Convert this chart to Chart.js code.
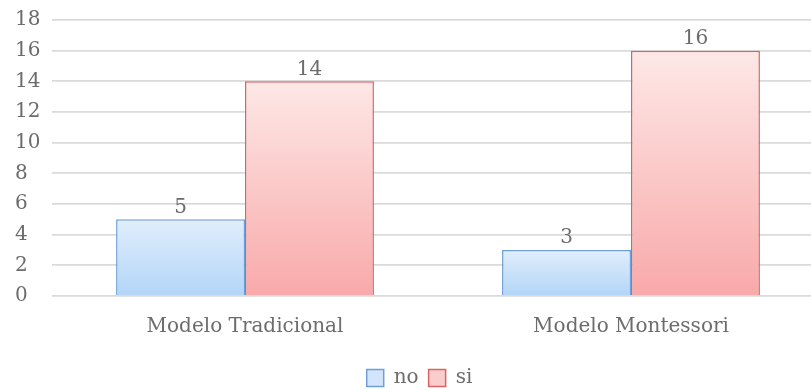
<!DOCTYPE html>
<html>
<head>
<meta charset="utf-8">
<script src="https://cdn.jsdelivr.net/npm/chart.js@4/dist/chart.umd.min.js"></script>
<style>
  html, body { margin: 0; padding: 0; background: #fff; overflow: hidden; }
  #wrap { width: 824px; height: 390px; }
</style>
</head>
<body>
<div id="wrap"><canvas id="chart"></canvas></div>
<script>
  const categories = ['Modelo Tradicional', 'Modelo Montessori'];
  const seriesNames = ['no', 'si'];
  const noValues = [5, 3];
  const siValues = [14, 16];
  const yTicks = [0, 2, 4, 6, 8, 10, 12, 14, 16, 18];

  const FONT = '"DejaVu Serif", "Liberation Serif", serif';
  const TEXT = '#6c6c6c';

  // vertical gradient from bar top to the zero line
  function barGradient(top, bottom) {
    return function (ctx) {
      const chart = ctx.chart;
      if (!chart.chartArea || ctx.type !== 'data') return bottom;
      const y = chart.scales.y;
      const y0 = y.getPixelForValue(ctx.parsed.y);
      const y1 = y.getPixelForValue(0);
      const g = chart.ctx.createLinearGradient(0, y0, 0, y1);
      g.addColorStop(0, top);
      g.addColorStop(1, bottom);
      return g;
    };
  }

  const valueLabels = {
    id: 'valueLabels',
    afterDatasetsDraw(chart) {
      const c = chart.ctx;
      c.save();
      c.font = '20px ' + FONT;
      c.fillStyle = TEXT;
      c.textAlign = 'center';
      c.textBaseline = 'bottom';
      chart.data.datasets.forEach((ds, i) => {
        chart.getDatasetMeta(i).data.forEach((bar, j) => {
          c.fillText(ds.data[j], bar.x, bar.y - 2);
        });
      });
      c.restore();
    }
  };

  new Chart(document.getElementById('chart'), {
    type: 'bar',
    data: {
      labels: categories,
      datasets: [
        {
          label: seriesNames[0],
          data: noValues,
          backgroundColor: barGradient('#e1eefc', '#b2d5f8'),
          borderColor: '#6f9fd9',
          borderWidth: 1.5,
          legendFill: '#d2e5fa'
        },
        {
          label: seriesNames[1],
          data: siValues,
          backgroundColor: barGradient('#fde8e6', '#f9a9aa'),
          borderColor: '#d66464',
          borderWidth: 1.5,
          legendFill: '#fbcccc'
        }
      ]
    },
    options: {
      responsive: true,
      maintainAspectRatio: false,
      animation: false,
      layout: { padding: { left: 15, right: 0, top: 20, bottom: -8 } },
      datasets: { bar: { categoryPercentage: 0.668, barPercentage: 1 } },
      scales: {
        x: {
          afterFit: (s) => { s.height = 62; },
          grid: { display: false },
          border: { display: false },
          ticks: { color: TEXT, font: { family: FONT, size: 20 }, padding: 11 }
        },
        y: {
          min: 0,
          max: 18,
          afterBuildTicks: (s) => { s.ticks = yTicks.map(v => ({ value: v })); },
          afterFit: (s) => { s.width = 37; s.paddingTop = 0; s.paddingBottom = 0; },
          grid: { color: '#dadada', lineWidth: 1.8, drawTicks: false },
          border: { display: false },
          ticks: {
            color: TEXT,
            font: { family: FONT, size: 20 },
            crossAlign: 'far',
            padding: 12
          }
        }
      },
      plugins: {
        tooltip: { enabled: false },
        legend: {
          position: 'bottom',
          labels: {
            color: TEXT,
            font: { family: FONT, size: 20 },
            boxWidth: 17,
            boxHeight: 17,
            padding: 10,
            generateLabels: (chart) => chart.data.datasets.map((ds, i) => ({
              text: ds.label,
              fillStyle: ds.legendFill,
              strokeStyle: ds.borderColor,
              lineWidth: 1.5,
              fontColor: TEXT,
              datasetIndex: i
            }))
          }
        }
      }
    },
    plugins: [valueLabels]
  });
</script>
</body>
</html>
